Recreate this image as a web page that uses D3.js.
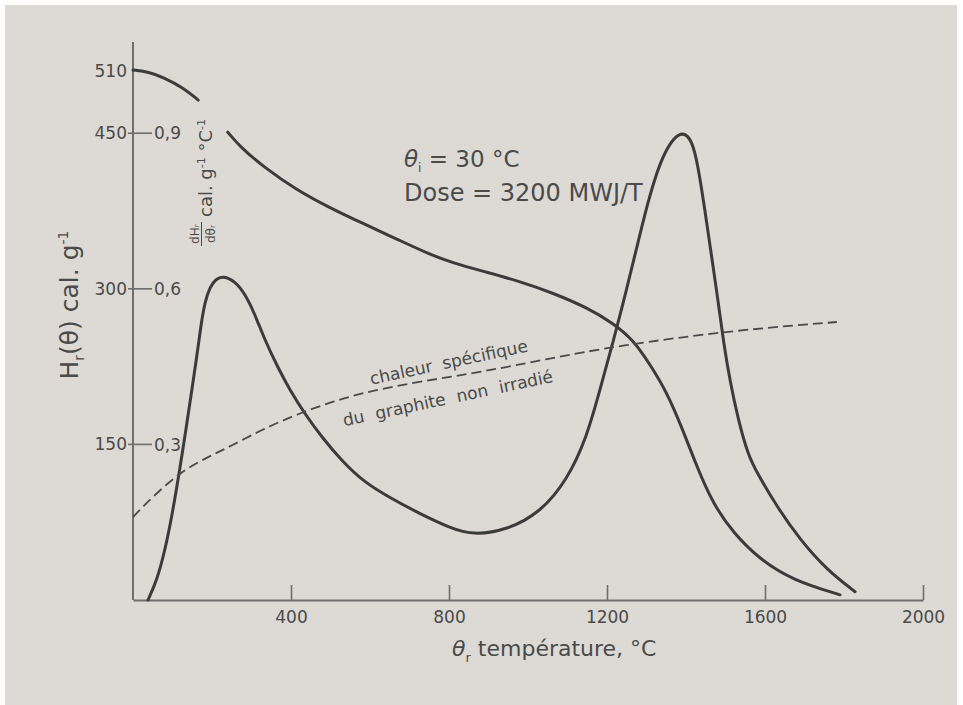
<!DOCTYPE html>
<html>
<head>
<meta charset="utf-8">
<script src="https://cdn.jsdelivr.net/npm/d3@7"></script>
<style>
  html, body { margin: 0; padding: 0; background: #ffffff; }
  svg { display: block; }
  text { font-family: "DejaVu Sans", sans-serif; fill: #4a4a4a; }
</style>
</head>
<body>
<div id="chart"></div>
<script>
// ---------- DATA ----------
// Temperature axis ticks (°C)
const xTicks = [400, 800, 1200, 1600, 2000];
// Left axis tick labels (H_r, cal/g) and matching right labels (dH/dθ, cal/g/°C)
const yTicksLeft = [150, 300, 450, 510];
const yTicksMarked = [150, 300, 450];
const yTicksRightLabels = ["0,3", "0,6", "0,9"];

// H_r(θ) curve, cal/g (null = gap in the drawn line)
const hTemp = [0, 40, 76, 127, 165, 200, 240, 271, 329, 415, 499, 582, 668, 752, 810, 896, 980, 1063, 1149, 1215, 1266, 1309, 1352, 1392, 1428, 1468, 1519, 1587, 1671, 1790];
const hVal  = [511, 509, 504, 494, 482, null, 451, 437, 418, 395, 378, 363, 348, 333, 325, 316, 307, 296, 282, 267, 251, 227, 200, 164, 128, 93, 65, 39, 19, 5];

// dH_r/dθ_r curve, cal/g/°C
const dTemp = [38, 61, 81, 99, 116, 134, 149, 162, 172, 182, 195, 210, 228, 258, 284, 309, 334, 365, 397, 435, 478, 529, 587, 651, 727, 803, 861, 947, 1030, 1099, 1149, 1182, 1215, 1248, 1278, 1306, 1334, 1359, 1382, 1400, 1415, 1428, 1448, 1466, 1481, 1496, 1511, 1532, 1557, 1580, 1630, 1689, 1757, 1828];
const dVal  = [0.0, 0.039, 0.096, 0.164, 0.241, 0.328, 0.405, 0.472, 0.530, 0.575, 0.604, 0.619, 0.625, 0.615, 0.590, 0.550, 0.501, 0.451, 0.405, 0.359, 0.314, 0.268, 0.226, 0.197, 0.166, 0.139, 0.125, 0.135, 0.168, 0.231, 0.314, 0.405, 0.496, 0.594, 0.688, 0.775, 0.843, 0.881, 0.899, 0.899, 0.883, 0.848, 0.752, 0.656, 0.578, 0.492, 0.424, 0.348, 0.280, 0.245, 0.180, 0.116, 0.058, 0.016];

// Specific heat of non-irradiated graphite, cal/g/°C (dashed)
const cpTemp = [0, 60, 127, 190, 246, 330, 415, 510, 600, 740, 886, 1050, 1225, 1519, 1782];
const cpVal  = [0.160, 0.207, 0.250, 0.276, 0.296, 0.330, 0.358, 0.384, 0.403, 0.423, 0.440, 0.465, 0.490, 0.520, 0.536];

// ---------- CHART ----------
const W = 963, H = 705;
const ink = "#3b3b3b";
const axisInk = "#6e6e6e";

const svg = d3.select("#chart").append("svg")
  .attr("width", W).attr("height", H);

svg.append("rect").attr("x", 0).attr("y", 0).attr("width", W).attr("height", H).attr("fill", "#ffffff");
svg.append("rect").attr("x", 5).attr("y", 5).attr("width", 952).attr("height", H - 5).attr("fill", "#dddad5");

const x = d3.scaleLinear().domain([0, 2000]).range([133, 923]);
const yH = d3.scaleLinear().domain([0, 510]).range([600, 71]);
const yD = d3.scaleLinear().domain([0, 1.02]).range([600, 71]);

// X axis
const xAxis = svg.append("g")
  .attr("transform", `translate(0,${yH(0)})`)
  .call(d3.axisBottom(x).tickValues(xTicks).tickSizeInner(-15).tickSizeOuter(0).tickPadding(11).tickFormat(d3.format("d")));
xAxis.select(".domain").attr("stroke", axisInk).attr("stroke-width", 2);
xAxis.selectAll(".tick line").attr("stroke", axisInk).attr("stroke-width", 1.6);
xAxis.selectAll(".tick text").attr("font-size", 17).attr("fill", "#4a4a4a")
  .attr("font-family", "DejaVu Sans");

// Y axis line
svg.append("line")
  .attr("x1", x(0)).attr("x2", x(0))
  .attr("y1", yH(0)).attr("y2", yH(538))
  .attr("stroke", axisInk).attr("stroke-width", 2);

// Y left labels
const yAxis = svg.append("g")
  .attr("transform", `translate(${x(0)},0)`)
  .call(d3.axisLeft(yH).tickValues(yTicksLeft).tickSize(0).tickPadding(6).tickFormat(d3.format("d")));
yAxis.select(".domain").remove();
yAxis.selectAll(".tick text").attr("font-size", 17).attr("fill", "#4a4a4a")
  .attr("font-family", "DejaVu Sans");

// crossing tick marks + right-hand labels
svg.selectAll(".ytickmark").data(yTicksMarked).enter().append("line")
  .attr("x1", x(0) - 5).attr("x2", x(0) + 19)
  .attr("y1", d => yH(d)).attr("y2", d => yH(d))
  .attr("stroke", axisInk).attr("stroke-width", 1.6);
svg.selectAll(".yright").data(yTicksMarked).enter().append("text")
  .attr("x", x(0) + 21).attr("y", d => yH(d)).attr("dy", "0.36em")
  .attr("font-size", 17)
  .text((d, i) => yTicksRightLabels[i]);

// Curves
const lineH = d3.line()
  .defined((d, i) => hVal[i] !== null)
  .x((d, i) => x(hTemp[i])).y((d, i) => yH(hVal[i]))
  .curve(d3.curveBasis);
svg.append("path").attr("d", lineH(hTemp))
  .attr("fill", "none").attr("stroke", ink).attr("stroke-width", 3).attr("stroke-linecap", "round");

const lineD = d3.line()
  .x((d, i) => x(dTemp[i])).y((d, i) => yD(dVal[i]))
  .curve(d3.curveBasis);
svg.append("path").attr("d", lineD(dTemp))
  .attr("fill", "none").attr("stroke", ink).attr("stroke-width", 3).attr("stroke-linecap", "round");

const lineCp = d3.line()
  .x((d, i) => x(cpTemp[i])).y((d, i) => yD(cpVal[i]))
  .curve(d3.curveBasis);
svg.append("path").attr("d", lineCp(cpTemp))
  .attr("fill", "none").attr("stroke", "#4a4a4a").attr("stroke-width", 1.8)
  .attr("stroke-dasharray", "10,5");

// Axis titles
const xt = svg.append("text").attr("x", 452).attr("y", 656).attr("font-size", 22);
xt.append("tspan").text("θ").attr("font-style", "italic");
xt.append("tspan").text("r").attr("font-size", 13).attr("dy", 6);
xt.append("tspan").text("  température, °C").attr("dy", -6);

const yl = svg.append("text").attr("transform", "translate(78,305) rotate(-90)")
  .attr("text-anchor", "middle").attr("font-size", 25);
yl.append("tspan").text("H");
yl.append("tspan").text("r").attr("font-size", 14).attr("dy", 6);
yl.append("tspan").text("(θ)  cal. g").attr("dy", -6);
yl.append("tspan").text("-1").attr("font-size", 14).attr("dy", -10);

// dH/dθ unit label (fraction)
svg.append("text").attr("transform", "translate(199,234) rotate(-90)")
  .attr("text-anchor", "middle").attr("font-size", 12).text("dHᵣ");
svg.append("line").attr("x1", 201.5).attr("x2", 201.5).attr("y1", 222).attr("y2", 246)
  .attr("stroke", "#4a4a4a").attr("stroke-width", 1);
svg.append("text").attr("transform", "translate(215,234) rotate(-90)")
  .attr("text-anchor", "middle").attr("font-size", 12).text("dθᵣ");
const yr = svg.append("text").attr("transform", "translate(212,217) rotate(-90)")
  .attr("font-size", 18);
yr.append("tspan").text("cal. g");
yr.append("tspan").text("-1").attr("font-size", 11).attr("dy", -7);
yr.append("tspan").text(" °C").attr("dy", 7);
yr.append("tspan").text("-1").attr("font-size", 11).attr("dy", -7);

// Annotations
const a1 = svg.append("text").attr("x", 404).attr("y", 167).attr("font-size", 23);
a1.append("tspan").text("θ").attr("font-style", "italic");
a1.append("tspan").text("i").attr("font-size", 12).attr("dy", 5);
a1.append("tspan").text(" = 30 °C").attr("dy", -5);
svg.append("text").attr("x", 404).attr("y", 201).attr("font-size", 24)
  .text("Dose = 3200 MWJ/T");

// Curve label
svg.append("text").attr("transform", "translate(450,368) rotate(-12)")
  .attr("text-anchor", "middle").attr("font-size", 17).attr("word-spacing", 5)
  .text("chaleur spécifique");
svg.append("text").attr("transform", "translate(449,404) rotate(-12)")
  .attr("text-anchor", "middle").attr("font-size", 17).attr("word-spacing", 6)
  .text("du graphite non irradié");
</script>
</body>
</html>
